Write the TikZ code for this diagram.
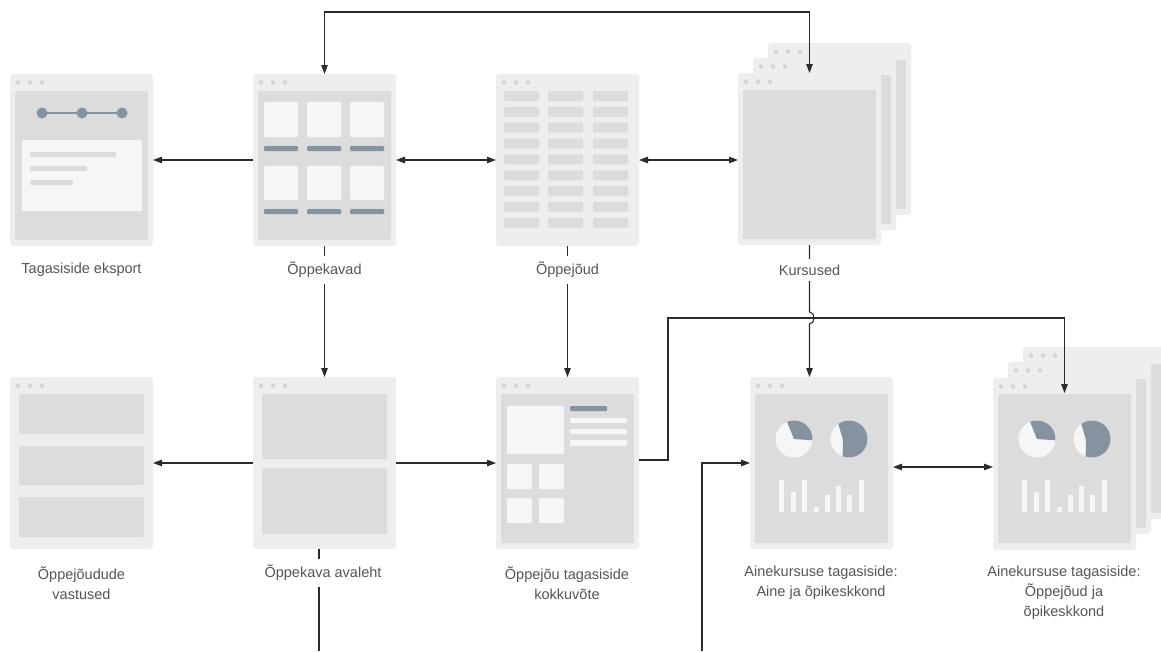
\documentclass[tikz,border=0pt]{standalone}
\usepackage{fontspec}
\setmainfont{Liberation Sans}
\usetikzlibrary{arrows.meta}
\definecolor{pgout}{HTML}{EDEEF0}
\definecolor{pgin}{HTML}{DCDCDC}
\definecolor{pgwh}{HTML}{F6F6F6}
\definecolor{pgdk}{HTML}{8593A0}
\definecolor{pgdot}{HTML}{D4D5D7}
\definecolor{lnc}{HTML}{2B2B2B}
\definecolor{txc}{HTML}{555555}
\tikzset{
 page/.style={fill=pgout, rounded corners=3pt, minimum width=143pt, minimum height=172pt, inner sep=0pt, outer sep=0pt, anchor=north west, draw=none},
 inbox/.style={fill=pgin, rounded corners=1pt},
 wbox/.style={fill=pgwh, rounded corners=1pt},
 dbar/.style={fill=pgdk, rounded corners=1pt},
 conn/.style={draw=lnc, line width=1.1pt},
 arr/.style={conn, -{Triangle[length=9pt,width=6.5pt]}},
 darr/.style={conn, {Triangle[length=9pt,width=6.5pt]}-{Triangle[length=9pt,width=6.5pt]}},
 lbl/.style={fill=white, text=txc, font=\fontsize{14.5}{20}\selectfont, align=center, inner xsep=4pt, inner ysep=6pt},
}
\newcommand\pgdots[2]{\fill[pgdot] (#1+8,#2+8.5) circle (2.3pt) (#1+20,#2+8.5) circle (2.3pt) (#1+32,#2+8.5) circle (2.3pt);}
\newcommand\pginner[2]{\fill[inbox] (#1+5,#2+17) rectangle (#1+138,#2+166);}
\newcommand\chartbits[1]{%
 \fill[pgwh] (#1+794,439) circle (18.5pt);
 \begin{scope}\clip (#1+794,439) circle (18.5pt);
 \fill[pgdk] (#1+794,439) -- (#1+779,401.9) -- (#1+817.5,406.6) -- (#1+833.9,441.8) -- cycle;
 \end{scope}
 \fill[pgwh] (#1+849,439) circle (18.5pt);
 \begin{scope}\clip (#1+849,439) circle (18.5pt);
 \fill[pgdk] (#1+843,440) -- (#1+832.1,402.75) -- (#1+869,404.4) -- (#1+889,439) -- (#1+871.9,471.8) -- (#1+842.05,478.4) -- cycle;
 \end{scope}
 \foreach \bx/\bt in {779/480,791/492,802/480,814/507,825/495,836/486,847/495,859/480}
   \fill[pgwh] (#1+\bx,\bt) rectangle (#1+\bx+5,512);
}
\begin{document}
\begin{tikzpicture}[x=1pt,y=-1pt]
\useasboundingbox (0,0) rectangle (1161,651);
\clip (0,0) rectangle (1161,651);
\fill[white] (0,0) rectangle (1161,651);

% ---------- top row ----------
\node[page] (p1) at (10,74) {};
\pgdots{10}{74}
\pginner{10}{74}
\draw[pgdk, line width=2pt] (42,113) -- (122,113);
\fill[pgdk] (42,113) circle (5.5pt) (82,113) circle (5.5pt) (122,113) circle (5.5pt);
\fill[wbox] (22,140) rectangle (142,211);
\fill[inbox] (30,152) rectangle (116,157);
\fill[inbox] (30,166) rectangle (87,171);
\fill[inbox] (30,180) rectangle (73,185);

\node[page] (p2) at (253,74) {};
\pgdots{253}{74}
\pginner{253}{74}
\foreach \cx in {264,307,350} {
  \fill[wbox] (\cx,102) rectangle (\cx+34,137);
  \fill[dbar] (\cx,146) rectangle (\cx+34,151);
  \fill[wbox] (\cx,166) rectangle (\cx+34,200);
  \fill[dbar] (\cx,209) rectangle (\cx+34,214);
}

\node[page] (p3) at (496,74) {};
\pgdots{496}{74}
\foreach \r in {0,...,8}
  \foreach \cx in {504,548,593}
    \fill[inbox] (\cx,91+15.85*\r) rectangle (\cx+35,101+15.85*\r);

\node[page] (p4c) at (768,43) {};
\pgdots{768}{43}
\pginner{768}{43}
\node[page] (p4b) at (753,58) {};
\pgdots{753}{58}
\pginner{753}{58}
\node[page] (p4) at (738,73) {};
\pgdots{738}{73}
\pginner{738}{73}

% ---------- bottom row ----------
\node[page] (p5) at (10,377) {};
\pgdots{10}{377}
\fill[inbox] (19,394) rectangle (144,434);
\fill[inbox] (19,446) rectangle (144,485);
\fill[inbox] (19,497) rectangle (144,537);

\node[page] (p6) at (253,377) {};
\pgdots{253}{377}
\fill[inbox] (262,394) rectangle (387,459);
\fill[inbox] (262,468) rectangle (387,534);

\node[page] (p7) at (496,377) {};
\pgdots{496}{377}
\pginner{496}{377}
\fill[wbox] (507,406) rectangle (564,454);
\fill[wbox] (507,464) rectangle (532,489);
\fill[wbox] (539,464) rectangle (564,489);
\fill[wbox] (507,498) rectangle (532,523);
\fill[wbox] (539,498) rectangle (564,523);
\fill[dbar] (570,406) rectangle (607,411);
\fill[wbox] (570,418) rectangle (627,423);
\fill[wbox] (570,429) rectangle (627,434);
\fill[wbox] (570,440) rectangle (627,446);

\node[page] (p8) at (750,377) {};
\pgdots{750}{377}
\pginner{750}{377}
\chartbits{0}

\node[page] (p9c) at (1023,347) {};
\pgdots{1023}{347}
\pginner{1023}{347}
\node[page] (p9b) at (1008,362) {};
\pgdots{1008}{362}
\pginner{1008}{362}
\node[page] (p9) at (993,378) {};
\pgdots{993}{378}
\pginner{993}{377}
\chartbits{243}

% ---------- connectors ----------
\draw[arr] (p2.west) -- (p1.east);
\draw[darr] (p2.east) -- (p3.west);
\draw[darr] (p3.east) -- (p3.east -| p4.west);
\draw[darr] (p4.north) -- ++(0,-61) -| (p2.north);
\draw[arr] (p2.south) -- (p6.north);
\draw[arr] (p3.south) -- (p7.north);
\coordinate (j1) at (809.5,312);
\coordinate (j2) at (809.5,324);
\draw[arr] (p4.south) -- (j1) .. controls +(6,0) and +(6,0) .. (j2) -- (j2 |- p8.north);
\coordinate (k1) at (668,318);
\coordinate (k2) at (1064.5,393);
\draw[arr] ([yshift=3pt]p7.east) -| (k1) -| (k2);
\draw[arr] (p6.west) -- (p5.east);
\draw[arr] (p6.east) -- (p7.west);
\coordinate (d1) at ([yshift=-4pt]p8.east);
\draw[darr] (d1) -- (d1 -| p9.west);
\coordinate (b1) at (319,651);
\draw[conn] (b1 |- p6.south) -- (b1);
\coordinate (b2) at (702,651);
\draw[arr] (b2) |- (p8.west);

% ---------- labels ----------
\node[lbl] (l1) at (81.5,270) {Tagasiside eksport};
\node[lbl] (l2) at (324.5,270) {Õppekavad};
\node[lbl] (l3) at (567.5,270) {Õppejõud};
\node[lbl] (l4) at (809.5,270) {Kursused};
\node[lbl] (l5) at (81.5,583) {Õppejõudude\\vastused};
\node[lbl] (l6) at (323,573) {Õppekava avaleht};
\node[lbl] (l7) at (567,583) {Õppejõu tagasiside\\kokkuvõte};
\node[lbl] (l8) at (821,583) {Ainekursuse tagasiside:\\Aine ja õpikeskkond};
\node[lbl] (l9) at (1064,593) {Ainekursuse tagasiside:\\Õppejõud ja\\õpikeskkond};
\end{tikzpicture}
\end{document}
